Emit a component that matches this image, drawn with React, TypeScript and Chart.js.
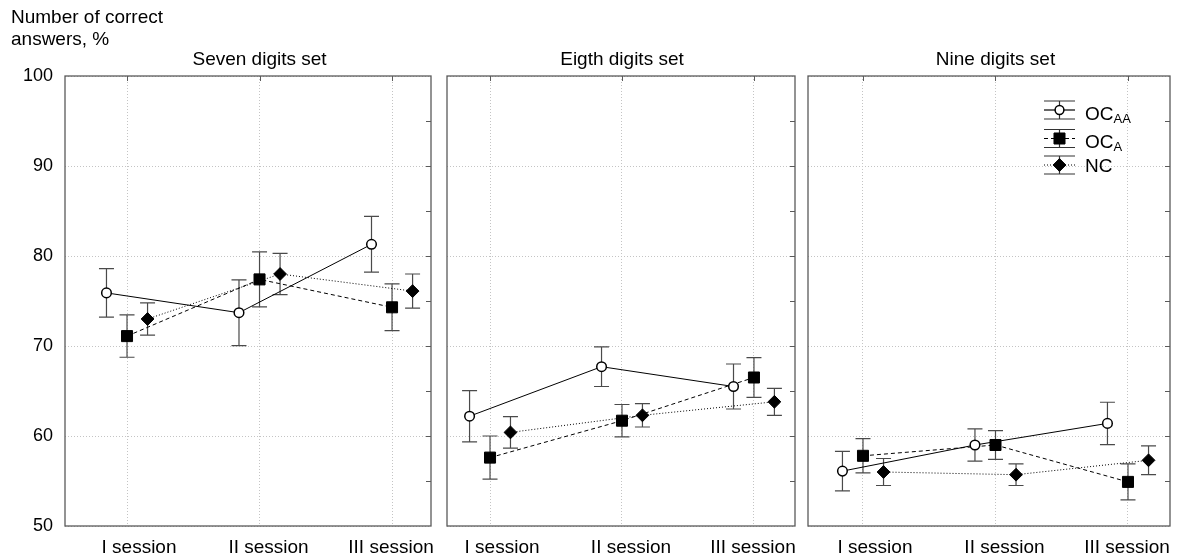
import React, { useEffect, useRef } from "react";
import { Chart, registerables } from "chart.js";
Chart.register(...registerables);

// ---------- data ----------
const sessions = ["I session", "II session", "III session"];
const panelTitles = ["Seven digits set", "Eigth digits set", "Nine digits set"];
const yTickValues = [50, 60, 70, 80, 90, 100];
const yAxisTitle = ["Number of correct", "answers, %"];
const seriesNames = ["OC", "OC", "NC"];
const seriesSubs = ["AA", "A", ""];

// Seven digits set
const sevenOCAA = [75.9, 73.7, 81.3];
const sevenOCAAErr = [2.7, 3.65, 3.1];
const sevenOCA = [71.1, 77.4, 74.3];
const sevenOCAErr = [2.35, 3.05, 2.6];
const sevenNC = [73.0, 78.0, 76.1];
const sevenNCErr = [1.8, 2.3, 1.9];

// Eigth digits set
const eightOCAA = [62.2, 67.7, 65.5];
const eightOCAAErr = [2.85, 2.2, 2.5];
const eightOCA = [57.6, 61.7, 66.5];
const eightOCAErr = [2.4, 1.8, 2.2];
const eightNC = [60.4, 62.3, 63.8];
const eightNCErr = [1.75, 1.3, 1.5];

// Nine digits set
const nineOCAA = [56.1, 59.0, 61.4];
const nineOCAAErr = [2.2, 1.8, 2.35];
const nineOCA = [57.8, 59.0, 54.9];
const nineOCAErr = [1.9, 1.6, 2.0];
const nineNC = [56.0, 55.7, 57.3];
const nineNCErr = [1.5, 1.2, 1.6];

// ---------- styles ----------
const FONT = '"Liberation Sans", Arial, sans-serif';
const seriesStyles = [
  { pointStyle: "circle", radius: 4.8, bg: "#fff", borderW: 1.5, dash: [] as number[], offset: -0.155 },
  { pointStyle: "rect", radius: 7.8, bg: "#000", borderW: 1, dash: [4, 3], offset: 0 },
  { pointStyle: "rectRot", radius: 6.4, bg: "#000", borderW: 1, dash: [1, 2], offset: 0.155 },
];
const labelShift = [12, 9, -1];

const panelData = [
  { values: [sevenOCAA, sevenOCA, sevenNC], errors: [sevenOCAAErr, sevenOCAErr, sevenNCErr] },
  { values: [eightOCAA, eightOCA, eightNC], errors: [eightOCAAErr, eightOCAErr, eightNCErr] },
  { values: [nineOCAA, nineOCA, nineNC], errors: [nineOCAAErr, nineOCAErr, nineNCErr] },
];

const panelLayout = [
  { left: 0, width: 440, yW: 65, padR: 9, xMin: -0.468, xMax: 2.294, yLabels: true, legend: false },
  { left: 440, width: 360, yW: 7, padR: 5, xMin: -0.326, xMax: 2.311, yLabels: false, legend: false },
  { left: 800, width: 377, yW: 8, padR: 7, xMin: -0.415, xMax: 2.317, yLabels: false, legend: true },
];

function drawMarker(ctx: CanvasRenderingContext2D, style: any, x: number, y: number) {
  ctx.save();
  ctx.setLineDash([]);
  ctx.beginPath();
  if (style.pointStyle === "circle") {
    ctx.arc(x, y, style.radius, 0, Math.PI * 2);
  } else if (style.pointStyle === "rect") {
    const s = Math.SQRT1_2 * style.radius;
    ctx.rect(x - s, y - s, 2 * s, 2 * s);
  } else {
    const r = style.radius;
    ctx.moveTo(x - r, y);
    ctx.lineTo(x, y - r);
    ctx.lineTo(x + r, y);
    ctx.lineTo(x, y + r);
    ctx.closePath();
  }
  ctx.fillStyle = style.bg;
  ctx.fill();
  ctx.lineWidth = style.borderW;
  ctx.strokeStyle = "#000";
  ctx.stroke();
  ctx.restore();
}

function makePlugin(panelIndex: number) {
  const layout = panelLayout[panelIndex];
  return {
    id: "decor" + panelIndex,
    beforeDatasetsDraw(chart: any) {
      const ctx = chart.ctx;
      const yScale = chart.scales.y;
      ctx.save();
      ctx.strokeStyle = "#4a4a4a";
      ctx.lineWidth = 1.2;
      chart.data.datasets.forEach((ds: any, d: number) => {
        const meta = chart.getDatasetMeta(d);
        ds.data.forEach((pt: any, i: number) => {
          const el = meta.data[i];
          const e = ds.errors[i];
          const x = el.x;
          const yT = yScale.getPixelForValue(pt.y + e);
          const yB = yScale.getPixelForValue(pt.y - e);
          ctx.beginPath();
          ctx.moveTo(x, yT);
          ctx.lineTo(x, yB);
          ctx.moveTo(x - 7.5, yT);
          ctx.lineTo(x + 7.5, yT);
          ctx.moveTo(x - 7.5, yB);
          ctx.lineTo(x + 7.5, yB);
          ctx.stroke();
        });
      });
      ctx.restore();
    },
    afterDraw(chart: any) {
      const ctx = chart.ctx;
      const a = chart.chartArea;
      const xScale = chart.scales.x;
      const yScale = chart.scales.y;
      ctx.save();
      // frame
      ctx.strokeStyle = "#5a5a5a";
      ctx.lineWidth = 1.3;
      ctx.strokeRect(a.left, a.top, a.right - a.left, a.bottom - a.top);
      // inner ticks: right edge every 5, top edge at categories
      ctx.beginPath();
      for (let v = 55; v < 100; v += 5) {
        const y = Math.round(yScale.getPixelForValue(v)) + 0.5;
        ctx.moveTo(a.right - 5, y);
        ctx.lineTo(a.right, y);
      }
      sessions.forEach((_, i) => {
        const x = Math.round(xScale.getPixelForValue(i)) + 0.5;
        ctx.moveTo(x, a.top);
        ctx.lineTo(x, a.top + 5);
      });
      ctx.lineWidth = 1;
      ctx.stroke();
      // title
      ctx.fillStyle = "#000";
      ctx.font = "19px " + FONT;
      ctx.textAlign = "center";
      ctx.textBaseline = "alphabetic";
      ctx.fillText(panelTitles[panelIndex], xScale.getPixelForValue(1), 65);
      // x labels
      ctx.font = "19px " + FONT;
      sessions.forEach((s, i) => {
        ctx.fillText(s, xScale.getPixelForValue(i) + labelShift[i], 553);
      });
      // y axis title
      if (layout.yLabels) {
        ctx.textAlign = "left";
        ctx.font = "19px " + FONT;
        ctx.fillText(yAxisTitle[0], 11, 23);
        ctx.fillText(yAxisTitle[1], 11, 45);
      }
      // legend
      if (layout.legend) {
        const lx0 = a.right - 126;
        const lx1 = a.right - 95;
        const mx = (lx0 + lx1) / 2;
        const rowY = [a.top + 34, a.top + 62.5, a.top + 89];
        const textOff = [9.5, 9.5, 6.5];
        seriesStyles.forEach((st, k) => {
          const y = rowY[k];
          ctx.strokeStyle = "#000";
          ctx.lineWidth = 1.2;
          ctx.setLineDash(st.dash);
          ctx.beginPath();
          ctx.moveTo(lx0, y);
          ctx.lineTo(lx1, y);
          ctx.stroke();
          ctx.setLineDash([]);
          ctx.strokeStyle = "#333";
          ctx.beginPath();
          ctx.moveTo(mx, y - 9);
          ctx.lineTo(mx, y + 9);
          ctx.moveTo(lx0, y - 9);
          ctx.lineTo(lx1, y - 9);
          ctx.moveTo(lx0, y + 9);
          ctx.lineTo(lx1, y + 9);
          ctx.stroke();
          drawMarker(ctx, { ...st, radius: st.pointStyle === "circle" ? 4.4 : st.radius }, mx, y);
          ctx.fillStyle = "#000";
          ctx.textAlign = "left";
          ctx.font = "19px " + FONT;
          const tx = a.right - 85;
          const ty = y + textOff[k];
          ctx.fillText(seriesNames[k], tx, ty);
          if (seriesSubs[k]) {
            const w = ctx.measureText(seriesNames[k]).width;
            ctx.font = "13px " + FONT;
            ctx.fillText(seriesSubs[k], tx + w, ty + 3);
          }
        });
      }
      ctx.restore();
    },
  };
}

function buildConfig(panelIndex: number): any {
  const layout = panelLayout[panelIndex];
  const pd = panelData[panelIndex];
  const datasets = seriesStyles.map((st, k) => ({
    label: seriesNames[k] + seriesSubs[k],
    data: pd.values[k].map((v, i) => ({ x: i + st.offset, y: v })),
    errors: pd.errors[k],
    borderColor: "#000",
    borderWidth: 1,
    borderDash: st.dash,
    pointStyle: st.pointStyle,
    pointRadius: st.radius,
    pointBackgroundColor: st.bg,
    pointBorderColor: "#000",
    pointBorderWidth: st.borderW,
    fill: false,
    tension: 0,
  }));
  return {
    type: "line",
    data: { datasets },
    options: {
      animation: false,
      responsive: false,
      events: [],
      layout: { autoPadding: false, padding: { top: 76, right: layout.padR, bottom: 0, left: 0 } },
      plugins: { legend: { display: false }, tooltip: { enabled: false }, title: { display: false } },
      scales: {
        x: {
          type: "linear",
          min: layout.xMin,
          max: layout.xMax,
          afterBuildTicks: (scale: any) => {
            scale.ticks = sessions.map((_, i) => ({ value: i }));
          },
          afterFit: (scale: any) => {
            scale.height = 34;
          },
          ticks: { display: false },
          grid: { color: "#c4c4c4", lineWidth: 1, drawTicks: false },
          border: { display: false, dash: [1, 2] },
        },
        y: {
          type: "linear",
          min: 50,
          max: 100,
          afterBuildTicks: (scale: any) => {
            scale.ticks = yTickValues.map((v) => ({ value: v }));
          },
          afterFit: (scale: any) => {
            scale.width = layout.yW;
          },
          ticks: {
            display: layout.yLabels,
            color: "#000",
            padding: 12,
            font: { family: FONT, size: 18 },
          },
          grid: { color: "#c4c4c4", lineWidth: 1, drawTicks: false },
          border: { display: false, dash: [1, 2] },
        },
      },
    },
    plugins: [makePlugin(panelIndex)],
  };
}

export default function App() {
  const refs = [useRef<HTMLCanvasElement>(null), useRef<HTMLCanvasElement>(null), useRef<HTMLCanvasElement>(null)];
  useEffect(() => {
    const charts = refs.map((r, i) => new Chart(r.current as HTMLCanvasElement, buildConfig(i)));
    return () => charts.forEach((c) => c.destroy());
  }, []);
  return (
    <div style={{ position: "fixed", left: 0, top: 0, width: 1177, height: 560, background: "#fff" }}>
      {panelLayout.map((p, i) => (
        <canvas
          key={i}
          ref={refs[i]}
          width={p.width}
          height={560}
          style={{ position: "absolute", left: p.left, top: 0, width: p.width, height: 560 }}
        />
      ))}
    </div>
  );
}
